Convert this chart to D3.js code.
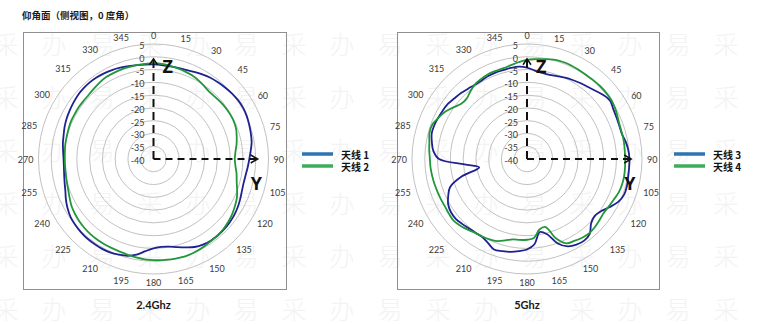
<!DOCTYPE html>
<html>
<head>
<meta charset="utf-8">
<script src="https://cdn.jsdelivr.net/npm/d3@7"></script>
<style>
  html, body { margin: 0; padding: 0; background: #fff; }
  svg { display: block; }
</style>
</head>
<body>
<svg id="chart" width="774" height="324"></svg>
<script>
// Elevation-plane gain in dB, sampled every 5°, 0° at the top, clockwise.
const angles = d3.range(0, 360, 5);

// 2.4 GHz
const ant1 = [-3.0,-3.1,-3.2,-3.1,-2.9,-2.4,-1.8,-1.2,-0.8,-0.4,0.0,0.3,0.4,0.2,-0.2,-0.6,-1.0,-1.8,
              -2.5,-3.0,-3.4,-3.5,-3.2,-2.6,-2.0,-1.5,-1.2,-1.0,-0.9,-1.0,-1.3,-2.0,-3.2,-4.3,-5.2,-5.5,
              -5.0,-3.8,-2.0,-0.8,-0.2,0.3,0.5,0.5,0.5,0.3,0.0,-0.4,-1.2,-2.2,-3.3,-4.0,-4.5,-4.8,
              -4.8,-4.5,-4.0,-3.6,-3.0,-2.5,-2.1,-1.7,-1.3,-1.1,-1.0,-1.1,-1.3,-1.6,-2.0,-2.4,-2.7,-2.9];
const ant2 = [-2.5,-2.6,-3.0,-3.3,-3.6,-4.0,-4.6,-5.3,-5.8,-5.8,-5.6,-5.4,-5.3,-5.3,-5.6,-6.3,-7.0,-7.8,
              -8.2,-7.8,-7.0,-6.3,-5.2,-4.0,-3.2,-2.4,-1.8,-1.3,-1.0,-0.8,-0.5,-0.2,0.0,0.0,-0.1,-0.3,
              -0.4,-0.6,-0.9,-1.2,-1.4,-1.5,-1.5,-1.5,-1.6,-1.8,-2.1,-2.5,-3.0,-3.8,-4.5,-4.9,-5.2,-5.3,
              -5.3,-5.2,-5.0,-4.9,-4.7,-4.5,-4.5,-4.4,-4.4,-4.3,-3.9,-3.4,-3.0,-2.9,-2.8,-2.8,-2.7,-2.6];

// 5 GHz
const ant3 = [-4.2,-5.3,-5.8,-5.9,-5.5,-4.9,-4.3,-3.7,-3.1,-2.2,-1.0,-0.3,-1.0,-1.4,-1.6,-1.6,-0.8,-0.2,
              0.1,0.1,0.2,0.5,0.5,-0.5,-2.5,-4.5,-5.4,-4.5,-1.8,-1.0,-1.3,-2.3,-4.8,-9.5,-11.0,-6.5,
              -4.6,-3.8,-3.1,-2.7,-2.3,-3.8,-4.8,-4.8,-4.6,-4.1,-3.6,-3.7,-4.4,-6.0,-8.0,-13.5,-21.0,-15.5,
              -5.6,-3.2,-2.2,-1.4,-1.4,-1.7,-2.0,-2.3,-3.0,-3.5,-4.1,-4.5,-4.5,-4.2,-4.0,-4.0,-3.8,-3.7];
const ant4 = [-1.2,-0.8,-0.3,0.3,0.5,0.5,0.3,0.2,0.3,0.4,0.4,0.3,-0.2,-0.9,-1.4,-1.5,-1.5,-1.6,
              -1.6,-1.5,-1.4,-1.5,-1.8,-2.5,-3.0,-3.3,-2.9,-2.4,-2.1,-2.4,-3.0,-3.6,-7.0,-12.5,-12.0,-9.0,
              -8.4,-8.2,-8.1,-7.0,-5.8,-5.3,-5.0,-4.7,-3.9,-3.1,-2.5,-2.7,-2.9,-2.8,-2.7,-2.5,-2.3,-2.1,
              -2.0,-1.6,-1.2,-0.5,-0.6,-1.8,-3.0,-4.8,-6.4,-6.6,-5.5,-4.4,-3.9,-3.5,-3.4,-3.3,-2.8,-2.0];

const angleTicks = d3.range(0, 360, 15);
const ringTicks = d3.range(5, -41, -5);          // 5, 0, -5 … -40
const seriesNames = [["天线 1", "天线 2"], ["天线 3", "天线 4"]];
const panelTitles = ["2.4Ghz", "5Ghz"];
const chartTitle = "仰角面（侧视图，0 度角）";

const curveColors  = ["#1e2190", "#22963a"];
const legendColors = ["#2e73b4", "#3cae5a"];

const svg = d3.select("#chart");

// faint repeated watermark behind everything
const wm = svg.append("g").attr("font-family", "'Noto Sans CJK SC'")
  .attr("font-weight", 300).attr("font-size", 25).attr("fill", "#f3f3f3")
  .attr("text-anchor", "middle").attr("dominant-baseline", "central");
const wmChars = ["易", "采", "办"];
for (let row = 0; row < 6; row++) {
  for (let col = 0; col < 16; col++) {
    wm.append("text").attr("x", 6 + col * 48).attr("y", 43 + row * 53)
      .text(wmChars[(col + 1) % 3]);
  }
}

// chart title
svg.append("text").attr("x", 22).attr("y", 19)
  .attr("font-family", "'Noto Sans CJK SC'").attr("font-weight", 700)
  .attr("font-size", 9.5).attr("fill", "#1a1a1a").text(chartTitle);

const layouts = [
  { box: [23, 32, 263, 257], cx: 153.5, cy: 159, legendX: 302 },
  { box: [397, 32, 262, 257], cx: 527, cy: 159, legendX: 674 }
];
const values = [[ant1, ant2], [ant3, ant4]];

const R = 115;
const rScale = d3.scaleLinear().domain([-40, 5]).range([0, R]);

layouts.forEach((L, p) => {
  const g = svg.append("g");
  g.append("rect").attr("x", L.box[0] + 0.5).attr("y", L.box[1] + 0.5)
    .attr("width", L.box[2]).attr("height", L.box[3])
    .attr("fill", "none").attr("stroke", "#8f8f8f").attr("stroke-width", 1);

  const c = g.append("g").attr("transform", `translate(${L.cx},${L.cy})`);

  // concentric grid rings
  c.selectAll("circle.ring").data(ringTicks.filter(t => t > -40)).join("circle")
    .attr("r", d => rScale(d)).attr("fill", "none")
    .attr("stroke", "#c2c2c2").attr("stroke-width", 1);

  // angle labels around the outside
  const lab = c.append("g").attr("font-family", "Lato, 'Liberation Sans', sans-serif")
    .attr("font-size", 9).attr("fill", "#3a3a3a")
    .attr("text-anchor", "middle").attr("dominant-baseline", "central");
  angleTicks.forEach(a => {
    const t = lab.append("text").text(a);
    const w = t.node().getComputedTextLength();
    const rad = a * Math.PI / 180;
    const s = Math.sin(rad), co = Math.cos(rad);
    const rr = R + 5 + Math.abs(s) * w / 2 + Math.abs(co) * 3.5;
    t.attr("x", rr * s).attr("y", -rr * co);
  });

  // dB labels along the vertical axis
  c.append("g").attr("font-family", "Lato, 'Liberation Sans', sans-serif")
    .attr("font-size", 9).attr("fill", "#3a3a3a")
    .attr("text-anchor", "end").attr("dominant-baseline", "central")
    .selectAll("text").data(ringTicks).join("text")
    .attr("x", -9).attr("y", d => -rScale(d) + 1.5).text(d => d);

  // pattern traces
  const line = d3.lineRadial()
    .angle(d => d[0] * Math.PI / 180)
    .radius(d => rScale(d[1]))
    .curve(d3.curveCatmullRomClosed.alpha(0.5));
  values[p].forEach((vals, i) => {
    c.append("path").datum(angles.map((a, j) => [a, vals[j]]))
      .attr("d", line).attr("fill", "none")
      .attr("stroke", curveColors[i]).attr("stroke-width", 1.8)
      .attr("stroke-linejoin", "round");
  });

  // Z / Y axis arrows
  const zTip = rScale(0) - 2, yTip = rScale(0) + 2;
  const ax = c.append("g").attr("stroke", "#111").attr("fill", "none");
  ax.append("line").attr("x1", 0).attr("y1", 0).attr("x2", 0).attr("y2", -zTip)
    .attr("stroke-width", 2).attr("stroke-dasharray", "8,5");
  ax.append("line").attr("x1", 0).attr("y1", 0).attr("x2", yTip).attr("y2", 0)
    .attr("stroke-width", 2).attr("stroke-dasharray", "7,5");
  ax.append("path").attr("d", `M-4,${-zTip + 6}L0,${-zTip}L4,${-zTip + 6}`)
    .attr("stroke-width", 1.5);
  ax.append("path").attr("d", `M${yTip - 7},-4L${yTip},0L${yTip - 7},4`)
    .attr("stroke-width", 1.5);
  c.append("text").attr("x", 9).attr("y", -rScale(0) + 16)
    .attr("font-family", "'Open Sans', 'DejaVu Sans', sans-serif").attr("font-weight", 700)
    .attr("font-size", 18).attr("fill", "#111").text("Z");
  c.append("text").attr("x", yTip - 7).attr("y", 31)
    .attr("font-family", "'Open Sans', 'DejaVu Sans', sans-serif").attr("font-weight", 700)
    .attr("font-size", 18).attr("fill", "#111").text("Y");

  // panel caption
  svg.append("text").attr("x", L.cx).attr("y", 309).attr("text-anchor", "middle")
    .attr("font-family", "Lato, 'Liberation Sans', sans-serif").attr("font-weight", 700)
    .attr("font-size", 11).attr("fill", "#1a1a1a").text(panelTitles[p]);

  // legend
  seriesNames[p].forEach((name, i) => {
    const y = 154 + i * 12;
    svg.append("line").attr("x1", L.legendX).attr("x2", L.legendX + 31)
      .attr("y1", y).attr("y2", y).attr("stroke", legendColors[i]).attr("stroke-width", 3.5);
    svg.append("text").attr("x", L.legendX + 39).attr("y", y).attr("dominant-baseline", "central")
      .attr("font-family", "'Noto Sans CJK SC'").attr("font-weight", 700)
      .attr("font-size", 10).attr("fill", "#111").text(name);
  });
});
</script>
</body>
</html>
